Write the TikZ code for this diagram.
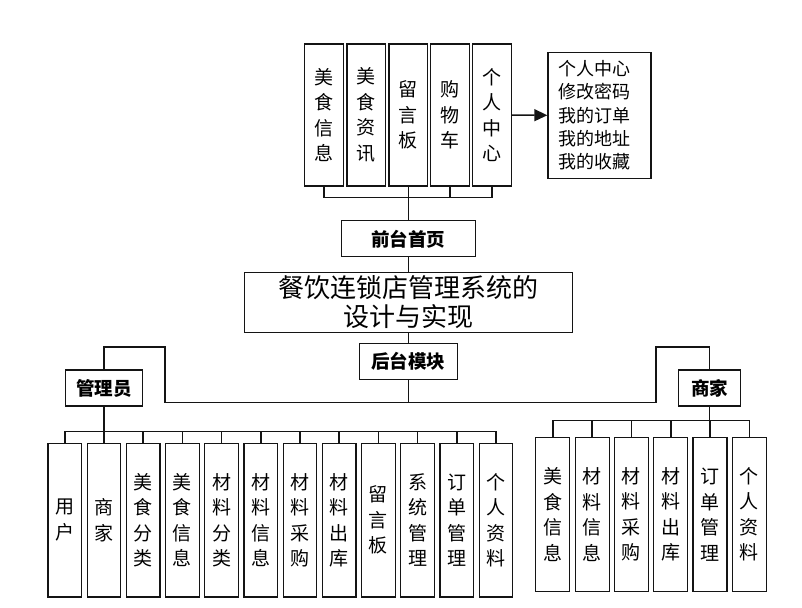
\documentclass[tikz,border=0pt]{standalone}
\usepackage{fontspec}
\setmainfont{Noto Sans CJK SC}
\usepackage{tikz}
\usetikzlibrary{arrows.meta, positioning}
\definecolor{boxline}{RGB}{20,20,20}

\begin{document}
\begin{tikzpicture}[
  x=1pt, y=-1pt,
  vbox/.style={rectangle, draw=boxline, line width=1.2pt, fill=white,
               inner sep=0pt, align=center,
               font=\fontsize{19}{25.5}\selectfont},
  topbox/.style={vbox, minimum width=38.6pt, minimum height=142pt},
  admbox/.style={vbox, minimum width=33.5pt, minimum height=153.7pt},
  shopbox/.style={vbox, minimum width=34pt, minimum height=154.4pt},
  lbl/.style={rectangle, draw=boxline, line width=1.2pt, fill=white,
              inner sep=0pt, minimum height=36pt,
              font=\fontsize{18.5}{20}\selectfont\bfseries},
  titlebox/.style={rectangle, draw=boxline, line width=1.2pt, fill=white,
                   inner sep=0pt, minimum width=328pt, minimum height=60.4pt,
                   align=center, font=\fontsize{26}{29}\selectfont},
  listbox/.style={rectangle, draw=boxline, line width=1.2pt, fill=white,
                  inner xsep=11pt, inner ysep=0pt, text width=81pt,
                  minimum height=126pt, align=left,
                  font=\fontsize{18}{23.4}\selectfont},
  conn/.style={line width=1.5pt, boxline},
  arr/.style={-{Triangle[length=13pt, width=12pt]}, line width=1.5pt, boxline},
]
\useasboundingbox (0,0) rectangle (802,607);

% Front pages
\node[topbox] (t1) at (324,115) {美\\食\\信\\息};
\node[topbox] (t2) at (366.2,115) {美\\食\\资\\讯};
\node[topbox] (t3) at (408.3,115) {留\\言\\板};
\node[topbox] (t4) at (450,115) {购\\物\\车};
\node[topbox] (t5) at (492,115) {个\\人\\中\\心};
\node[listbox] (center) at (599.4,115.3) {个人中心\\修改密码\\我的订单\\我的地址\\我的收藏};

% Middle column
\node[lbl, minimum width=134pt] (front) at (408.3,238.8) {前台首页};
\node[titlebox] (title) at (408.3,302.5) {餐饮连锁店管理系统的\\设计与实现};
\node[lbl, minimum width=98pt] (back) at (408.3,361.5) {后台模块};

% Roles
\node[lbl, minimum width=76.6pt] (admin) at (104,388) {管理员};
\node[lbl, minimum width=62.4pt] (shop) at (709.5,388) {商家};

% Admin modules
\node[admbox] (a1) at (64.75,520.2) {用\\户};
\node[admbox] (a2) at (103.95,520.2) {商\\家};
\node[admbox] (a3) at (143.15,520.2) {美\\食\\分\\类};
\node[admbox] (a4) at (182.35,520.2) {美\\食\\信\\息};
\node[admbox] (a5) at (221.55,520.2) {材\\料\\分\\类};
\node[admbox] (a6) at (260.75,520.2) {材\\料\\信\\息};
\node[admbox] (a7) at (299.95,520.2) {材\\料\\采\\购};
\node[admbox] (a8) at (339.15,520.2) {材\\料\\出\\库};
\node[admbox] (a9) at (378.35,520.2) {留\\言\\板};
\node[admbox] (a10) at (417.55,520.2) {系\\统\\管\\理};
\node[admbox] (a11) at (456.75,520.2) {订\\单\\管\\理};
\node[admbox] (a12) at (495.95,520.2) {个\\人\\资\\料};

% Shop modules
\node[shopbox] (s1) at (552.85,514.5) {美\\食\\信\\息};
\node[shopbox] (s2) at (592.15,514.5) {材\\料\\信\\息};
\node[shopbox] (s3) at (631.45,514.5) {材\\料\\采\\购};
\node[shopbox] (s4) at (670.75,514.5) {材\\料\\出\\库};
\node[shopbox] (s5) at (710.05,514.5) {订\\单\\管\\理};
\node[shopbox] (s6) at (749.35,514.5) {个\\人\\资\\料};

% Bus points
\coordinate (fbus) at (408.3,197.3);
\coordinate (bbus) at (408.3,402.3);
\coordinate (lelbow) at (165,347);
\coordinate (relbow) at (656,347);
\coordinate (abus) at (104,431.7);
\coordinate (sbus) at (709.5,420.7);

% Front connectors
\draw[conn] (t1.south) |- (t5.south |- fbus) -- (t5.south);
\draw[conn] (t3.south) -- (front.north);
\draw[conn] (t4.south) -- (t4.south |- fbus);
\draw[arr] (t5.east) -- (center.west);

% Trunk
\draw[conn] (front.south) -- (title.north);
\draw[conn] (title.south) -- (back.north);
\draw[conn] (back.south) -- (bbus);
\draw[conn] (admin.north) |- (lelbow) |- (bbus) -| (relbow) -| (shop.north);

% Admin bus
\draw[conn] (admin.south) -- (abus);
\draw[conn] (a1.north) |- (a12.north |- abus) -- (a12.north);
\draw[conn] (a2.north) -- (a2.north |- abus);
\draw[conn] (a3.north) -- (a3.north |- abus);
\draw[conn] (a4.north) -- (a4.north |- abus);
\draw[conn] (a5.north) -- (a5.north |- abus);
\draw[conn] (a6.north) -- (a6.north |- abus);
\draw[conn] (a7.north) -- (a7.north |- abus);
\draw[conn] (a8.north) -- (a8.north |- abus);
\draw[conn] (a9.north) -- (a9.north |- abus);
\draw[conn] (a10.north) -- (a10.north |- abus);
\draw[conn] (a11.north) -- (a11.north |- abus);

% Shop bus
\draw[conn] (shop.south) -- (sbus);
\draw[conn] (s1.north) |- (s6.north |- sbus) -- (s6.north);
\draw[conn] (s2.north) -- (s2.north |- sbus);
\draw[conn] (s3.north) -- (s3.north |- sbus);
\draw[conn] (s4.north) -- (s4.north |- sbus);
\draw[conn] (s5.north) -- (s5.north |- sbus);

\end{tikzpicture}
\end{document}
